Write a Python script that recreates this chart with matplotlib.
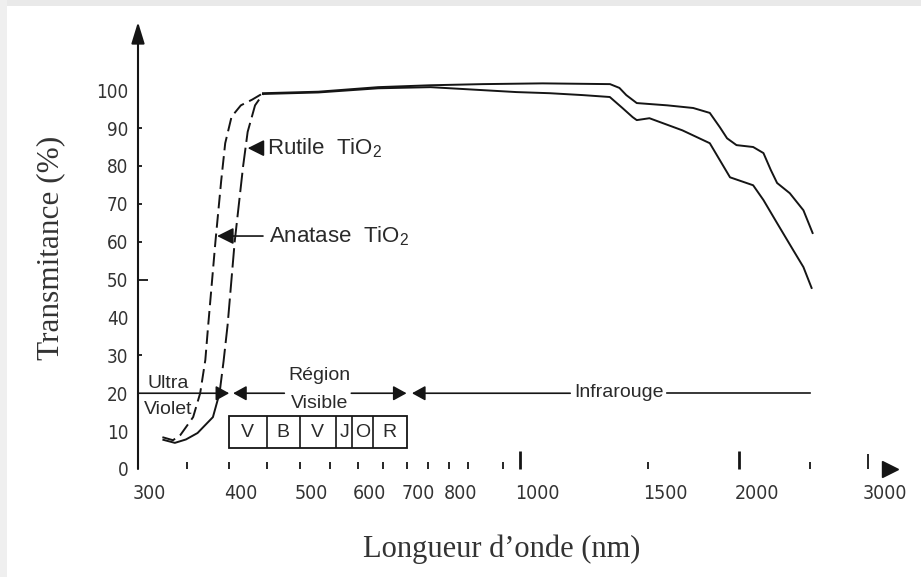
import numpy as np
import matplotlib.pyplot as plt
from matplotlib.patches import Rectangle
from matplotlib.ticker import NullFormatter
import matplotlib.transforms as mtransforms

plt.rcParams['font.family'] = ['Liberation Sans', 'DejaVu Sans']
plt.rcParams['mathtext.default'] = 'regular'

# Courbes (longueur d'onde en nm, transmittance en %)
anatase_wl = [324, 335, 343, 357, 365, 371, 374, 383, 390, 395, 403, 415, 430, 445,
              530, 640, 755, 890, 1075, 1330, 1370, 1400, 1447, 1593, 1729, 1822,
              1881, 1924, 1982, 2089, 2158, 2209, 2253, 2345, 2448, 2520]
anatase_T = [8.4, 7.6, 9.0, 13.7, 20, 28.8, 37, 60, 76, 86, 93, 96, 97.5, 99.2,
             99.6, 100.8, 101.3, 101.6, 101.8, 101.6, 100.6, 98.7, 96.6, 96.0, 95.3, 94.0,
             90.2, 87.3, 85.5, 85.0, 83.4, 78.9, 75.5, 72.8, 68.3, 62.3]

rutile_wl = [325, 337, 349, 362, 380, 388, 393, 398, 407, 418, 424, 434, 445,
             530, 640, 755, 990, 1100, 1221, 1329, 1383, 1428, 1447, 1506, 1671,
             1822, 1881, 1942, 2089, 2158, 2253, 2370, 2448, 2512]
rutile_T = [7.7, 6.9, 7.8, 9.5, 13.7, 20, 28.5, 38, 60, 80, 89, 96, 99.0,
            99.4, 100.5, 100.8, 99.5, 99.2, 98.7, 98.2, 95.3, 92.9, 92.1, 92.6, 89.4,
            86.0, 81.5, 77.0, 74.9, 71.0, 64.9, 57.8, 53.3, 47.8]

# Axes
xtick_vals = [300, 400, 500, 600, 700, 800, 1000, 1500, 2000, 3000]
xminor_vals = [350, 450, 550, 650, 750, 850, 950, 2500]
ytick_vals = [0, 10, 20, 30, 40, 50, 60, 70, 80, 90, 100]

# Régions spectrales et bandes de couleur
uv_end = 400
vis_start, vis_end = 405, 700
ir_start, ir_end = 712, 2500
band_edges = [400, 450, 500, 560, 590, 630, 700]
band_letters = ['V', 'B', 'V', 'J', 'O', 'R']

ink = '#151515'
txt = '#2a2a2a'
narrow = ['Liberation Sans Narrow', 'DejaVu Sans']

fig = plt.figure(figsize=(9.21, 5.79), dpi=100)
fig.patch.set_facecolor('white')
# bord gris du scan (haut et gauche)
fig.add_artist(Rectangle((0, 1 - 6 / 579), 1, 6 / 579, transform=fig.transFigure,
                         facecolor='#e9e9e9', edgecolor='none', zorder=-10))
fig.add_artist(Rectangle((0, 2 / 579), 7 / 921, 1, transform=fig.transFigure,
                         facecolor='#efefef', edgecolor='none', zorder=-10))

ax = fig.add_axes([138 / 921, 110 / 579, 762 / 921, 447 / 579])
ax.patch.set_alpha(0)
ax.set_xscale('log')
ax.set_xlim(300, 3320)
ax.set_ylim(0, 118)
for s in ax.spines.values():
    s.set_visible(False)

# Courbes : la montée apparaît en tirets sur le scan
aw, aT = np.array(anatase_wl), np.array(anatase_T)
rw, rT = np.array(rutile_wl), np.array(rutile_T)
m = aw <= 445
ax.plot(aw[m], aT[m], color=ink, lw=1.4, ls=(0, (7, 3)))
ax.plot(aw[aw >= 445], aT[aw >= 445], color=ink, lw=1.4)
m1 = rw <= 388
m2 = (rw >= 388) & (rw <= 445)
ax.plot(rw[m1], rT[m1], color=ink, lw=1.4)
ax.plot(rw[m2], rT[m2], color=ink, lw=1.4, ls=(0, (10, 3)))
ax.plot(rw[rw >= 445], rT[rw >= 445], color=ink, lw=1.4)

# Axe vertical avec flèche, flèche horizontale
ax.annotate('', xy=(300, 118), xytext=(300, 0), annotation_clip=False,
            arrowprops=dict(arrowstyle='-|>,head_length=1.3,head_width=0.4',
                            color=ink, lw=1.5, shrinkA=0, shrinkB=0, mutation_scale=10))
ax.plot([3220], [0], marker='>', ms=11, color=ink, clip_on=False)

# Graduations X
ax.set_xticks(xtick_vals)
ax.set_xticklabels([str(v) for v in xtick_vals])
ax.set_xticks(xminor_vals, minor=True)
ax.xaxis.set_minor_formatter(NullFormatter())
ax.tick_params(axis='x', which='both', direction='in', length=5, width=1.3,
               color=ink, pad=11, labelsize=14)
for t, v in zip(ax.xaxis.get_major_ticks(), xtick_vals):
    if v in (1000, 2000):
        t.tick1line.set_markersize(13)
        t.tick1line.set_markeredgewidth(2)
    elif v == 3000:
        t.tick1line.set_markersize(11)
    elif v == 300:
        t.tick1line.set_markersize(0)
off = mtransforms.ScaledTranslation(-0.05, 0, fig.dpi_scale_trans)
for lab in ax.get_xticklabels():
    lab.set_ha('left')
    lab.set_transform(lab.get_transform() + off)
    lab.set_family(narrow)
    lab.set_stretch('condensed')
    lab.set_color('#333333')

# Graduations Y
ax.set_yticks(ytick_vals)
ax.set_yticklabels([str(v) for v in ytick_vals])
ax.tick_params(axis='y', direction='in', length=3, width=1.3, color=ink, pad=7,
               labelsize=13.5)
for t, v in zip(ax.yaxis.get_major_ticks(), ytick_vals):
    if v == 50:
        t.tick1line.set_markersize(7)
    elif v in (0, 10, 20, 40, 100):
        t.tick1line.set_markersize(0)
for lab in ax.get_yticklabels():
    lab.set_family(narrow)
    lab.set_stretch('condensed')
    lab.set_color('#333333')

# Régions UV / visible / IR
arr = dict(color=ink, lw=1.2, shrinkA=0, shrinkB=0, mutation_scale=20)
head = '-|>,head_length=0.4,head_width=0.22'
ax.annotate('', xy=(uv_end, 20), xytext=(300, 20), arrowprops=dict(arrowstyle=head, **arr))
ax.annotate('', xy=(vis_start, 20), xytext=(476, 20), arrowprops=dict(arrowstyle=head, **arr))
ax.annotate('', xy=(vis_end, 20), xytext=(588, 20), arrowprops=dict(arrowstyle=head, **arr))
ax.annotate('', xy=(ir_start, 20), xytext=(1173, 20), arrowprops=dict(arrowstyle=head, **arr))
ax.plot([1592, ir_end], [20, 20], color=ink, lw=1.2)

ax.text(309, 22.7, 'Ultra', fontsize=14, ha='left', va='center', color=txt)
ax.text(306, 15.6, 'Violet', fontsize=14, ha='left', va='center', color=txt)
ax.text(532, 24.8, 'Région', fontsize=14, ha='center', va='center', color=txt)
ax.text(532, 17.4, 'Visible', fontsize=14, ha='center', va='center', color=txt)
ax.text(1370, 20.3, 'Infrarouge', fontsize=14, ha='center', va='center', color=txt)

# Bandes de couleur du visible
ax.add_patch(Rectangle((band_edges[0], 5.5), band_edges[-1] - band_edges[0], 8.5,
                       fill=False, edgecolor=ink, lw=1.3))
ax.vlines(band_edges[1:-1], 5.5, 14, color=ink, lw=1.2)
for a, b, letter in zip(band_edges[:-1], band_edges[1:], band_letters):
    ax.text(np.sqrt(a * b), 9.75, letter, fontsize=14, ha='center', va='center', color=txt)

# Étiquettes des courbes
ax.annotate('', xy=(424, 84.7), xytext=(445, 84.7),
            arrowprops=dict(arrowstyle='-|>,head_length=0.5,head_width=0.25', **arr))
ax.text(451, 84.7, 'Rutile  TiO$_2$', fontsize=16, ha='left', va='center', color=txt)
ax.annotate('', xy=(385, 61.5), xytext=(445, 61.5),
            arrowprops=dict(arrowstyle='-|>,head_length=0.5,head_width=0.25', **arr))
ax.text(453, 61.5, 'Anatase  TiO$_2$', fontsize=16, ha='left', va='center', color=txt)

fig.text(51 / 921, 1 - 248 / 579, 'Transmitance (%)', rotation=90, family='Liberation Serif',
         fontsize=22.5, ha='center', va='center', color='#333')
fig.text(502 / 921, 1 - 549 / 579, 'Longueur d\u2019onde (nm)', family='Liberation Serif',
         fontsize=22, ha='center', va='center', color='#333')

fig.savefig('out.png', dpi=100, facecolor=fig.get_facecolor())
